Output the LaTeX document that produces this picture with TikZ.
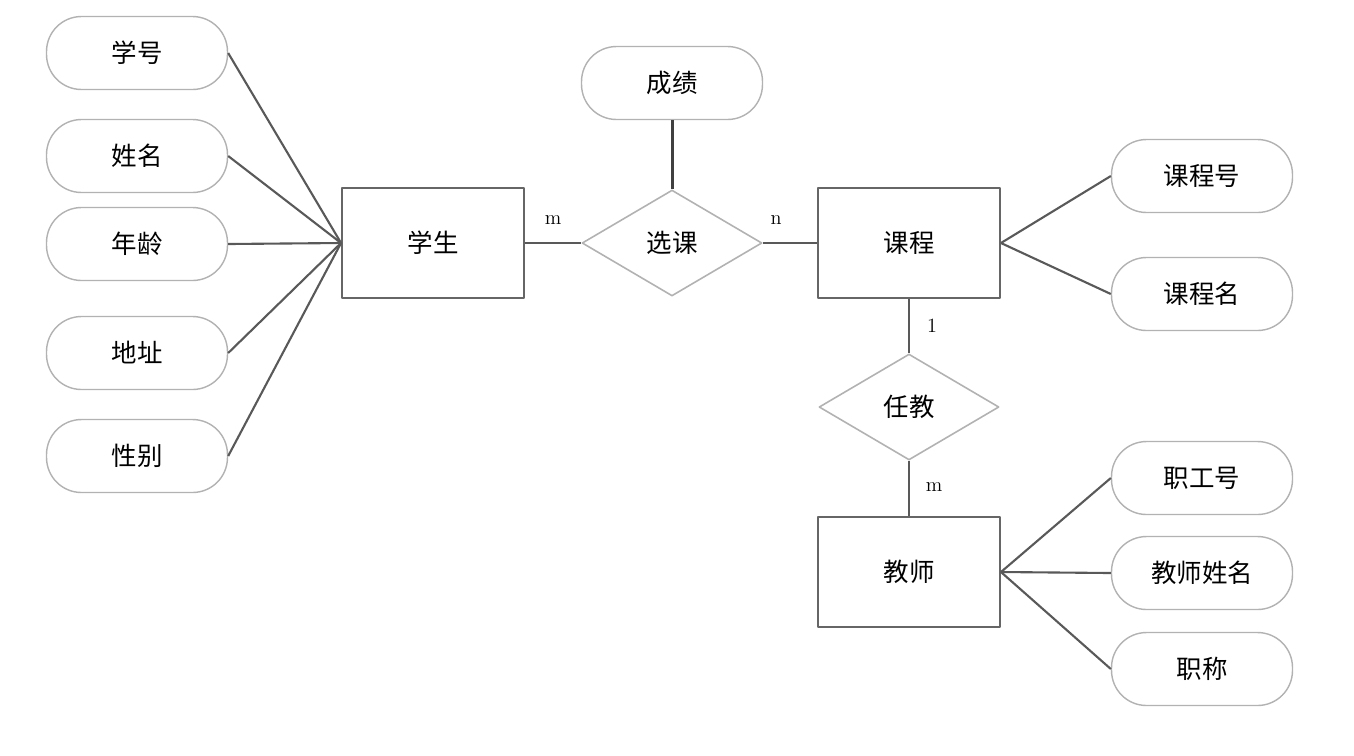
\documentclass[tikz,border=0pt]{standalone}
\usepackage{fontspec}
\newfontfamily\cjk{Noto Sans CJK SC}
\usetikzlibrary{shapes.geometric}
\begin{document}
\begin{tikzpicture}[x=0.02cm,y=-0.02cm,line join=round,
    attr/.style={draw=black!30,line width=0.8pt,rounded corners=0.7cm,fill=white,
      minimum width=3.62cm,minimum height=1.46cm,inner sep=0pt,font=\cjk\fontsize{14.5}{17}\selectfont},
    entity/.style={draw=black!60,line width=1.1pt,fill=white,
      minimum width=3.64cm,minimum height=2.2cm,inner sep=0pt,font=\cjk\fontsize{14.5}{17}\selectfont},
    relation/.style={diamond,aspect=1.7,draw=black!30,line width=0.9pt,fill=white,
      minimum width=3.6cm,minimum height=2.12cm,inner sep=0pt,font=\cjk\fontsize{14.5}{17}\selectfont},
    link/.style={draw=black!65,line width=1.2pt},
    card/.style={font=\fontsize{11.5}{13}\selectfont,inner sep=0pt}]
  \useasboundingbox (0,0) rectangle (1354,755);

  \node [entity] (xuesheng) at (433,243) {学生};
  \node [relation] (xuanke) at (672,243) {选课};
  \node [attr] (chengji) at (672,83) {成绩};
  \node [entity] (kecheng) at (909,243) {课程};
  \node [relation] (renjiao) at (909,407) {任教};
  \node [entity] (jiaoshi) at (909,572) {教师};

  % attributes of the student
  \foreach \name/\y [count=\i] in {学号/53,姓名/156,年龄/244,地址/353,性别/456} {
      \node [attr] (s\i) at (137,\y) {\name};
      \draw [link] (s\i.east) -- (xuesheng.west);
    }
  % attributes of the course
  \foreach \name/\y [count=\i] in {课程号/176,课程名/294} {
      \node [attr] (c\i) at (1202,\y) {\name};
      \draw [link] (kecheng.east) -- (c\i.west);
    }
  % attributes of the teacher
  \foreach \name/\y [count=\i] in {职工号/478,教师姓名/573,职称/669} {
      \node [attr] (t\i) at (1202,\y) {\name};
      \draw [link] (jiaoshi.east) -- (t\i.west);
    }

  \draw [link] (xuesheng) -- (xuanke);
  \draw [link] (xuanke) -- (kecheng);
  \draw [link,draw=black!75,line width=1.7pt] (chengji) -- (xuanke);
  \draw [link] (kecheng) -- (renjiao);
  \draw [link] (renjiao) -- (jiaoshi);

  \node [card] (m1) at (553,220) {m};
  \node [card] (n1) at (776,220) {n};
  \node [card] (one) at (932,326) {1};
  \node [card] (m2) at (934,487) {m};
\end{tikzpicture}
\end{document}
